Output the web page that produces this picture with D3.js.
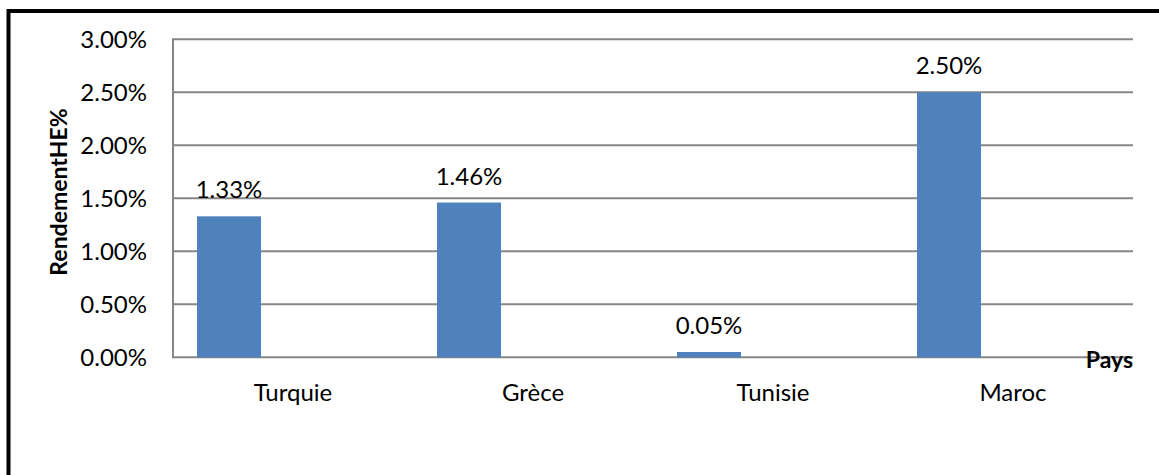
<!DOCTYPE html>
<html>
<head>
<meta charset="utf-8">
<script src="https://cdn.jsdelivr.net/npm/d3@7"></script>
<style>
  html, body { margin: 0; padding: 0; background: #fff; }
  svg { display: block; }
  text { font-family: Lato, "Noto Sans", sans-serif; fill: #000; }
</style>
</head>
<body>
<div id="chart"></div>
<script>
// Data
const categories = ["Turquie", "Grèce", "Tunisie", "Maroc"];
const values = [0.0133, 0.0146, 0.0005, 0.025];
const valueLabels = ["1.33%", "1.46%", "0.05%", "2.50%"];
const yTicks = [0, 0.005, 0.01, 0.015, 0.02, 0.025, 0.03];
const yTickLabels = ["0.00%", "0.50%", "1.00%", "1.50%", "2.00%", "2.50%", "3.00%"];
const seriesSlots = ["s1", "s2", "s3"];
const yTitle = "RendementHE%";
const xTitle = "Pays";

const W = 1159, H = 475;
const mLeft = 173, mRight = 1133, mTop = 39.3, mBottom = 357.3;

const svg = d3.select("#chart").append("svg").attr("width", W).attr("height", H);

// outer frame (top & left)
svg.append("path")
  .attr("d", `M8.5,${H} L8.5,11 L${W},11`)
  .attr("fill", "none").attr("stroke", "#000").attr("stroke-width", 4);

const x = d3.scaleBand().domain(categories).range([mLeft, mRight]).padding(0);
const sub = d3.scaleBand().domain(seriesSlots).range([0, x.bandwidth()])
  .paddingInner(0).paddingOuter(0.375);
const y = d3.scaleLinear().domain([0, 0.03]).range([mBottom, mTop]);

// gridlines
svg.append("g").selectAll("line").data(yTicks).join("line")
  .attr("x1", mLeft).attr("x2", mRight)
  .attr("y1", d => y(d)).attr("y2", d => y(d))
  .attr("stroke", "#868686").attr("stroke-width", 2);

// y axis line
svg.append("line").attr("x1", mLeft).attr("x2", mLeft)
  .attr("y1", y(0.03) - 1).attr("y2", y(0) + 1)
  .attr("stroke", "#868686").attr("stroke-width", 2);

// y tick labels
svg.append("g").selectAll("text").data(yTicks).join("text")
  .attr("x", 147).attr("y", d => y(d)).attr("dy", "0.35em")
  .attr("text-anchor", "end").attr("font-size", 24)
  .text((d, i) => yTickLabels[i]);

// bars
svg.append("g").selectAll("rect").data(values).join("rect")
  .attr("x", (d, i) => x(categories[i]) + sub("s1"))
  .attr("width", sub.bandwidth())
  .attr("y", d => y(d))
  .attr("height", d => y(0) - y(d))
  .attr("fill", "#4F81BD");

// data labels
svg.append("g").selectAll("text").data(values).join("text")
  .attr("x", (d, i) => x(categories[i]) + sub("s1") + sub.bandwidth() / 2)
  .attr("y", d => y(d) - 18)
  .attr("text-anchor", "middle").attr("font-size", 24)
  .text((d, i) => valueLabels[i]);

// category labels
svg.append("g").selectAll("text").data(categories).join("text")
  .attr("x", d => x(d) + x.bandwidth() / 2)
  .attr("y", 400.5)
  .attr("text-anchor", "middle").attr("font-size", 24)
  .text(d => d);

// axis titles
svg.append("text")
  .attr("transform", `translate(67,192) rotate(-90)`)
  .attr("text-anchor", "middle").attr("font-size", 23).attr("font-weight", "bold")
  .text(yTitle);

svg.append("text")
  .attr("x", 1133).attr("y", 367.5)
  .attr("text-anchor", "end").attr("font-size", 23).attr("font-weight", "bold")
  .text(xTitle);
</script>
</body>
</html>
